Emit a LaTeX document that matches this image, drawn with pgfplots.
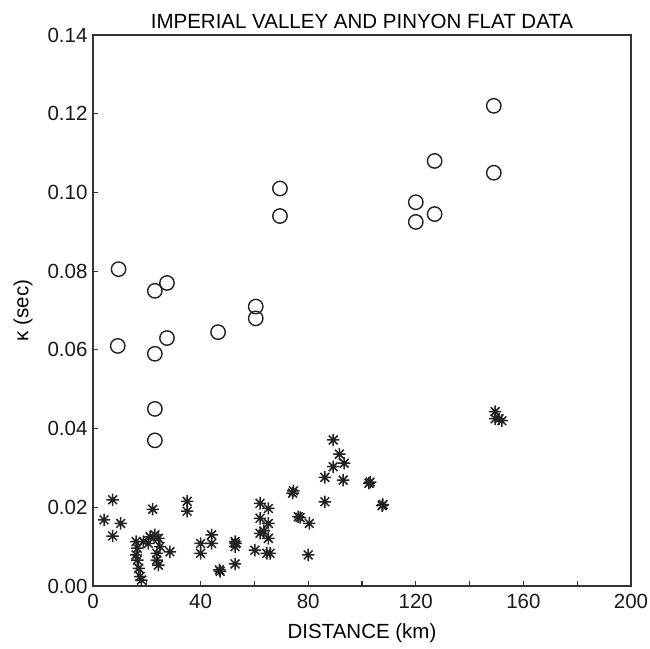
\documentclass[border=0pt]{standalone}
\usepackage{pgfplots}
\pgfplotsset{compat=1.18}
\usepackage{fontspec}
\setmainfont{Liberation Sans}
\definecolor{axgray}{HTML}{333333}
\definecolor{mk}{HTML}{222222}
\pgfdeclareplotmark{star8}{%
 \pgfpathmoveto{\pgfqpoint{-\pgfplotmarksize}{0pt}}\pgfpathlineto{\pgfqpoint{\pgfplotmarksize}{0pt}}%
 \pgfpathmoveto{\pgfqpoint{0pt}{-\pgfplotmarksize}}\pgfpathlineto{\pgfqpoint{0pt}{\pgfplotmarksize}}%
 \pgfpathmoveto{\pgfqpoint{-0.707\pgfplotmarksize}{-0.707\pgfplotmarksize}}\pgfpathlineto{\pgfqpoint{0.707\pgfplotmarksize}{0.707\pgfplotmarksize}}%
 \pgfpathmoveto{\pgfqpoint{-0.707\pgfplotmarksize}{0.707\pgfplotmarksize}}\pgfpathlineto{\pgfqpoint{0.707\pgfplotmarksize}{-0.707\pgfplotmarksize}}%
 \pgfusepathqstroke}
\begin{document}
\begin{tikzpicture}
\begin{axis}[
  name=ax,
  scale only axis,
  width=538bp, height=551bp,
  xmin=0, xmax=200, ymin=0, ymax=0.14,
  axis line style={axgray, line width=1.3bp},
  xtick={0,20,...,200},
  xticklabels={0,,40,,80,,120,,160,,200},
  ytick={0,0.02,...,0.14},
  yticklabel style={/pgf/number format/fixed,/pgf/number format/fixed zerofill,/pgf/number format/precision=2},
  scaled y ticks=false,
  tick align=inside,
  xtick pos=left, ytick pos=left,
  major tick length=5bp,
  tick style={axgray, line width=1.2bp},
  /pgf/number format/assume math mode=true,
  tick label style={font=\fontsize{20.5bp}{24bp}\selectfont, text=black!90},
  label style={font=\fontsize{20.5bp}{24bp}\selectfont},
  title style={font=\fontsize{20.5bp}{24bp}\selectfont, yshift=-3bp},
  xticklabel style={yshift=-5bp},
  yticklabel style={xshift=-2bp},
  title={IMPERIAL VALLEY AND PINYON FLAT DATA},
  xlabel={DISTANCE (km)},
  ylabel={κ (sec)},
  xlabel style={yshift=-8bp},
  ylabel style={yshift=8bp},
  clip=false,
]
\addplot[only marks, mark=o, mark size=7.2bp, mark options={mk, line width=1.4bp}] coordinates {
(9.5,0.0805) (9.2,0.061) (23,0.075) (23,0.059) (23,0.045) (23,0.037)
(27.5,0.077) (27.5,0.063) (46.5,0.0645) (60.5,0.071) (60.5,0.068)
(69.5,0.101) (69.5,0.094) (120,0.0975) (120,0.0925) (127,0.108) (127,0.0945)
(149,0.122) (149,0.105)
};
\addplot[only marks, mark=star8, mark size=6.2bp, mark options={mk, line width=1.5bp}] coordinates {
(4.1,0.0168) (7.3,0.0219) (7.3,0.0127) (10.3,0.0159) (22.2,0.0195) (35,0.0215) (35,0.0190)
(16,0.0113) (16.5,0.0096) (16,0.0079) (16.5,0.0066) (17,0.0045) (17.5,0.0024) (18,0.0015)
(18.7,0.0113) (21.2,0.0125) (23,0.013) (24.3,0.0121) (20.6,0.0108) (24.9,0.010) (23.7,0.0083)
(24.3,0.0053) (28.6,0.0087) (23.7,0.0066)
(40,0.0108) (40,0.0083) (44.1,0.013) (44.1,0.0108) (47,0.0041) (47.3,0.0037)
(52.8,0.0113) (52.8,0.0100) (53,0.0108) (52.8,0.0056)
(62.1,0.021) (65.2,0.0197) (62.1,0.0172) (65.2,0.0159) (62.1,0.0134) (65.2,0.0121)
(60.2,0.0091) (64.6,0.0083) (63.5,0.0140) (65.8,0.0083)
(74.2,0.0236) (74.5,0.0242) (86.2,0.0214) (76.3,0.0176) (77,0.0174) (80.4,0.0159) (80,0.0079)
(89.3,0.0371) (91.6,0.0335) (89.3,0.0303) (93.4,0.0312) (86.2,0.0276) (93,0.0269)
(102.6,0.0261) (103,0.0264) (107.5,0.0204) (107.8,0.0207)
(149.5,0.0443) (149.5,0.0425) (151,0.0425) (152,0.042)
};
\end{axis}
\pgfresetboundingbox
\path[use as bounding box] ([xshift=-93bp,yshift=-63bp]ax.south west) rectangle ([xshift=19bp,yshift=35bp]ax.north east);
\end{tikzpicture}
\end{document}
